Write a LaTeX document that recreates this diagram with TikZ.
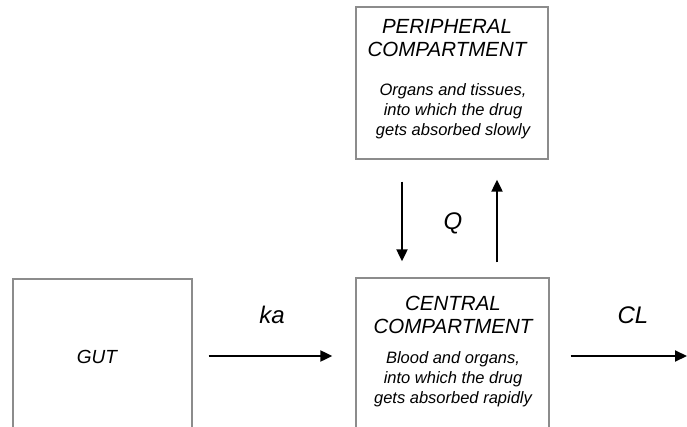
\documentclass[tikz,border=0pt]{standalone}
\usepackage{fontspec}
\setmainfont{Liberation Sans}
\usetikzlibrary{arrows.meta,calc}
\begin{document}
\begin{tikzpicture}[x=1pt,y=-1pt,
  box/.style={draw=black!45, line width=1.3pt, rectangle, inner sep=0pt},
  title/.style={font=\fontsize{20.5}{23}\selectfont\itshape, align=center, inner sep=0pt},
  desc/.style={font=\fontsize{16.5}{20}\selectfont\itshape, align=center, inner sep=0pt},
  lbl/.style={font=\fontsize{24}{28}\selectfont\itshape, inner sep=0pt},
  arr/.style={line width=2pt, -{Triangle[length=12pt,width=11pt]}}]
\useasboundingbox (0,0) rectangle (687,427);
\clip (0,0) rectangle (687,427);
\fill[white] (0,0) rectangle (687,427);
% boxes
\node[box, minimum width=192pt, minimum height=152pt] (periph) at (452,83) {};
\node[box, minimum width=193pt, minimum height=172pt] (central) at (452.5,364) {};
\node[box, minimum width=179pt, minimum height=172pt] (gut) at (102.5,365) {};
% texts
\node[title] (ptitle) at (447,38.5) {PERIPHERAL\\COMPARTMENT};
\node[desc] (pdesc) at (453,111) {Organs and tissues,\\into which the drug\\gets absorbed slowly};
\node[title] (ctitle) at (453,314.5) {CENTRAL\\COMPARTMENT};
\node[desc] (cdesc) at (453,379) {Blood and organs,\\into which the drug\\gets absorbed rapidly};
\node[font=\fontsize{19}{22}\selectfont\itshape, inner sep=0pt] (guttext) at (97,357) {GUT};
% labels
\node[lbl] (ka) at (272,315) {ka};
\node[lbl] (q) at (453,223) {Q};
\node[lbl] (cl) at (633,315) {CL};
% connectors
\coordinate (mid) at (0,356);
\coordinate (downx) at (402,0);
\coordinate (upx) at (497,0);
\coordinate (out) at (687,356);
\draw[arr, shorten <=16pt, shorten >=23pt] (gut.east |- mid) -- (central.west |- mid);
\draw[arr, shorten <=21pt] (central.east |- mid) -- (out);
\draw[arr, shorten <=22pt, shorten >=16pt] (periph.south -| downx) -- (central.north -| downx);
\draw[arr, shorten <=15pt, shorten >=20pt] (central.north -| upx) -- (periph.south -| upx);
\end{tikzpicture}
\end{document}
